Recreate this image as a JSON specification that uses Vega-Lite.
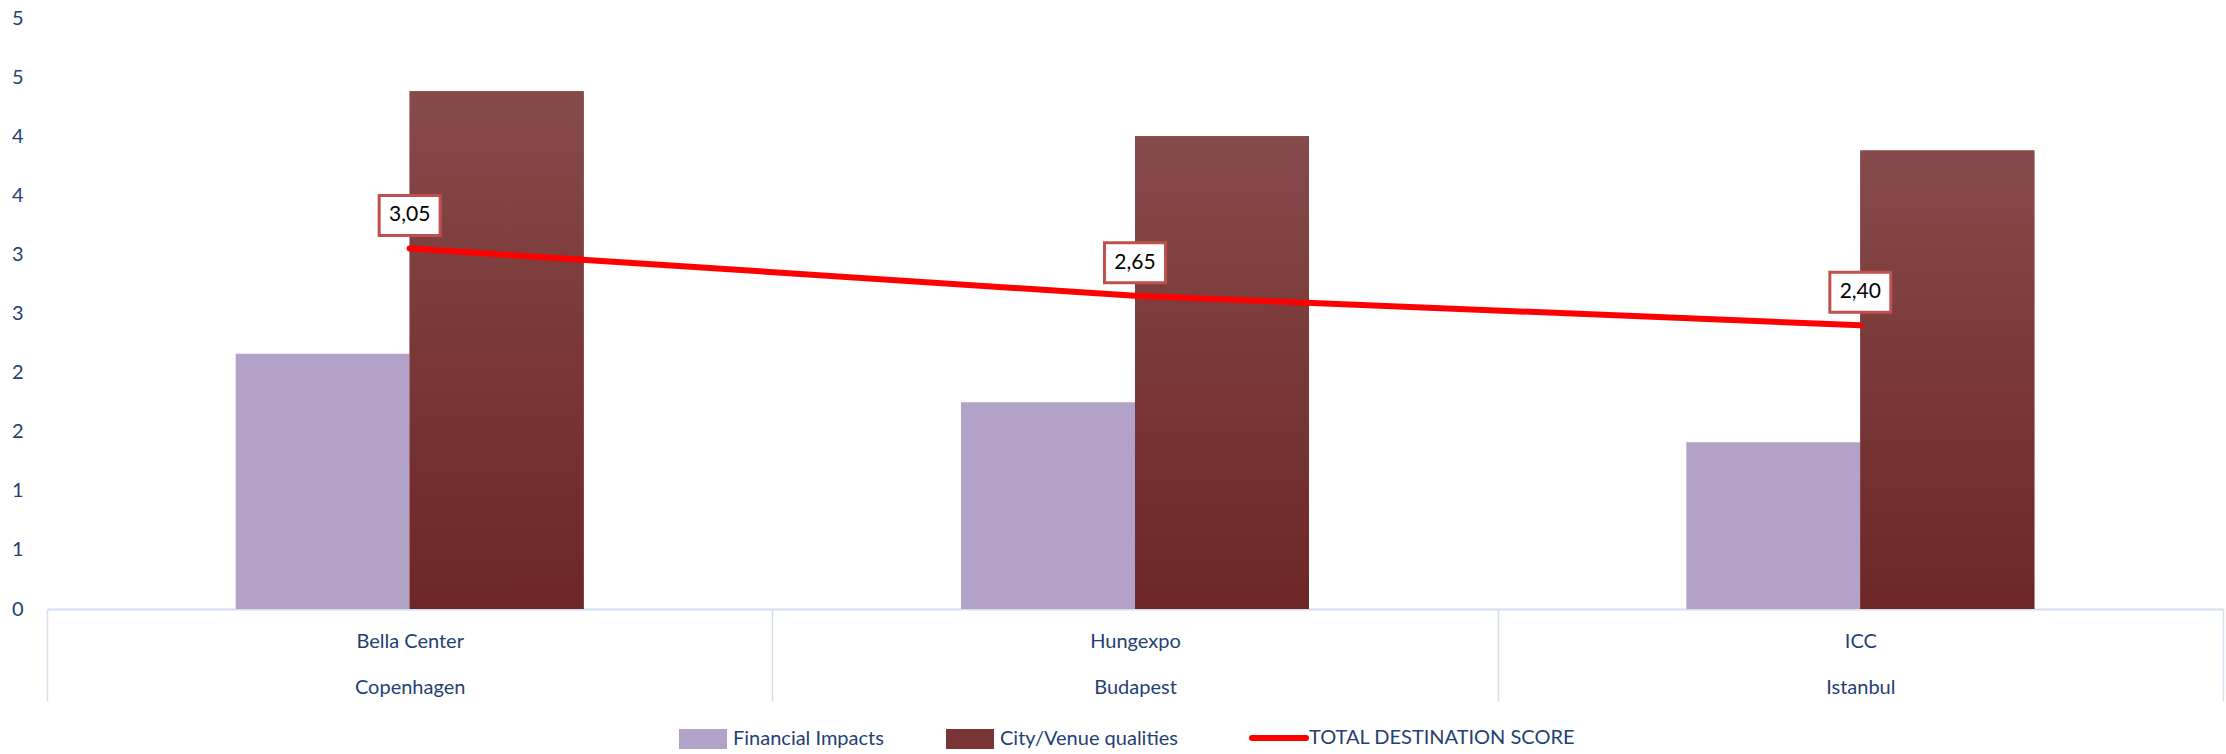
{
  "$schema": "https://vega.github.io/schema/vega-lite/v6.json",
  "width": 2176,
  "height": 591,
  "autosize": {"type": "none"},
  "padding": {"left": 47, "top": 18, "right": 3, "bottom": 145},
  "background": "white",
  "config": {
    "view": {"stroke": null},
    "locale": {"number": {"decimal": ",", "thousands": ".", "grouping": [3], "currency": ["", " €"]}}
  },
  "data": {
    "values": [
      {"site": "Bella Center|Copenhagen", "series": "Financial Impacts", "value": 2.16},
      {"site": "Bella Center|Copenhagen", "series": "City/Venue qualities", "value": 4.38},
      {"site": "Bella Center|Copenhagen", "series": "TOTAL DESTINATION SCORE", "value": 3.05},
      {"site": "Hungexpo|Budapest", "series": "Financial Impacts", "value": 1.75},
      {"site": "Hungexpo|Budapest", "series": "City/Venue qualities", "value": 4.0},
      {"site": "Hungexpo|Budapest", "series": "TOTAL DESTINATION SCORE", "value": 2.65},
      {"site": "ICC|Istanbul", "series": "Financial Impacts", "value": 1.41},
      {"site": "ICC|Istanbul", "series": "City/Venue qualities", "value": 3.88},
      {"site": "ICC|Istanbul", "series": "TOTAL DESTINATION SCORE", "value": 2.40}
    ]
  },
  "encoding": {
    "x": {
      "field": "site", "type": "nominal", "sort": null,
      "scale": {"paddingInner": 0, "paddingOuter": 0},
      "axis": {
        "title": null, "labelAngle": 0,
        "domainColor": "#D5DEEE", "domainWidth": 2,
        "ticks": true, "tickBand": "extent", "tickSize": 92, "tickColor": "#D5DEEE", "tickWidth": 1.5,
        "labelExpr": "split(datum.label, '|')",
        "labelFont": "Lato", "labelFontSize": 20, "labelColor": "#243F73",
        "labelPadding": -70, "labelLineHeight": 46, "labelBaseline": "top",
        "labelOverlap": false, "labelBound": false
      }
    },
    "y": {
      "field": "value", "type": "quantitative",
      "scale": {"domain": [0, 5], "nice": false, "zero": true},
      "axis": {
        "title": null, "domain": false, "ticks": false, "grid": false,
        "values": [0, 0.5, 1, 1.5, 2, 2.5, 3, 3.5, 4, 4.5, 5],
        "labelExpr": "'' + round(datum.value)",
        "labelFont": "Lato", "labelFontSize": 20, "labelColor": "#243F73",
        "labelPadding": 24
      }
    },
    "color": {
      "field": "series", "type": "nominal",
      "scale": {"domain": ["Financial Impacts", "City/Venue qualities", "TOTAL DESTINATION SCORE"],
                "range": ["#B3A2C7", "#7A3636", "#FF0000"]},
      "legend": {
        "title": null, "orient": "none", "legendX": 646, "legendY": 710,
        "direction": "horizontal", "symbolSize": 400,
        "labelFont": "Lato", "labelFontSize": 20, "labelColor": "#243F73", "labelLimit": 500,
        "labelOffset": 20, "columnPadding": 62,
        "encode": {
          "symbols": {
            "update": {
              "shape": {"signal": "datum.value === 'TOTAL DESTINATION SCORE' ? 'M-2.7,0H2.7' : 'M-2.4,-1H2.4V1H-2.4Z'"},
              "stroke": {"signal": "datum.value === 'TOTAL DESTINATION SCORE' ? '#FF0000' : 'transparent'"},
              "strokeWidth": {"signal": "datum.value === 'TOTAL DESTINATION SCORE' ? 6 : 0"},
              "strokeCap": {"value": "round"},
              "opacity": {"value": 1}
            }
          }
        }
      }
    }
  },
  "layer": [
    {
      "transform": [{"filter": "datum.series === 'Financial Impacts'"}],
      "mark": {"type": "bar", "width": 174, "xOffset": -87}
    },
    {
      "transform": [{"filter": "datum.series === 'City/Venue qualities'"}],
      "mark": {"type": "bar", "width": 174, "xOffset": 87}
    },
    {
      "transform": [{"filter": "datum.series === 'City/Venue qualities'"}],
      "mark": {
        "type": "bar", "width": 174, "xOffset": 87,
        "fill": {"gradient": "linear", "x1": 0, "y1": 0, "x2": 0, "y2": 1,
          "stops": [{"offset": 0, "color": "#874A4A"}, {"offset": 1, "color": "#6C2626"}]}
      },
      "encoding": {"color": {"value": null}}
    },
    {
      "transform": [{"filter": "datum.series === 'TOTAL DESTINATION SCORE'"}],
      "mark": {"type": "line", "strokeWidth": 6, "strokeCap": "round"}
    },
    {
      "transform": [{"filter": "datum.series === 'TOTAL DESTINATION SCORE'"}],
      "mark": {"type": "point", "shape": "M-3.05,-2H3.05V2H-3.05Z", "size": 400, "filled": true,
               "fill": "white", "stroke": "#C0504D", "strokeWidth": 3, "opacity": 1, "yOffset": -33},
      "encoding": {"color": {"value": null}}
    },
    {
      "transform": [{"filter": "datum.series === 'TOTAL DESTINATION SCORE'"}],
      "mark": {"type": "text", "font": "Lato", "fontSize": 21, "yOffset": -33,
               "align": "center", "baseline": "middle"},
      "encoding": {
        "color": {"value": "black"},
        "text": {"field": "value", "type": "quantitative", "format": ".2f"}
      }
    }
  ]
}
